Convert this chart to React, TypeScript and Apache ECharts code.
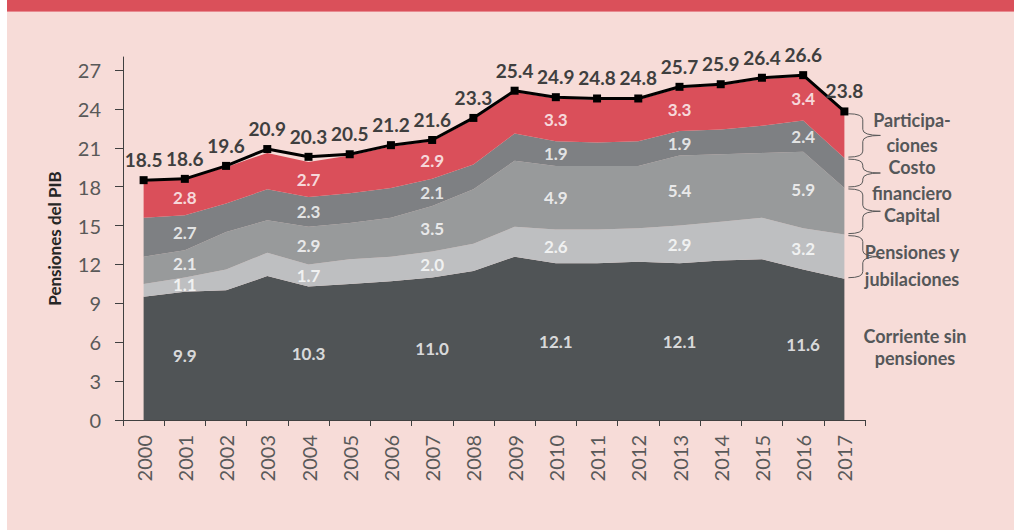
import React, { useEffect, useRef } from "react";
import * as echarts from "echarts";

const years = ["2000", "2001", "2002", "2003", "2004", "2005", "2006", "2007", "2008", "2009", "2010", "2011", "2012", "2013", "2014", "2015", "2016", "2017"];
const corriente = [9.5, 9.9, 10.0, 11.1, 10.3, 10.5, 10.7, 11.0, 11.5, 12.6, 12.1, 12.1, 12.2, 12.1, 12.3, 12.4, 11.6, 10.9];
const pensiones = [1.0, 1.1, 1.6, 1.8, 1.7, 1.9, 1.9, 2.0, 2.1, 2.3, 2.6, 2.6, 2.6, 2.9, 3.0, 3.2, 3.2, 3.4];
const capital = [2.1, 2.1, 2.9, 2.5, 2.9, 2.8, 3.0, 3.5, 4.2, 5.1, 4.9, 4.9, 4.8, 5.4, 5.2, 5.0, 5.9, 3.6];
const costo = [3.0, 2.7, 2.2, 2.4, 2.3, 2.3, 2.3, 2.1, 1.9, 2.1, 1.9, 1.8, 1.9, 1.9, 1.9, 2.1, 2.4, 2.3];
const participaciones = [2.8, 2.8, 2.8, 2.8, 2.7, 2.9, 3.2, 2.9, 3.5, 3.2, 3.3, 3.3, 3.2, 3.3, 3.4, 3.6, 3.4, 3.5];
const total = [18.5, 18.6, 19.6, 20.9, 20.3, 20.5, 21.2, 21.6, 23.3, 25.4, 24.9, 24.8, 24.8, 25.7, 25.9, 26.4, 26.6, 23.8];
const labelIdx = [1, 4, 7, 10, 13, 16];
const yTicks = [0, 3, 6, 9, 12, 15, 18, 21, 24, 27];

const layers = [
  { name: "Corriente sin pensiones", data: corriente, color: "#505456" },
  { name: "Pensiones y jubilaciones", data: pensiones, color: "#BEBFC1" },
  { name: "Capital", data: capital, color: "#989A9B" },
  { name: "Costo financiero", data: costo, color: "#7E8083" },
  { name: "Participaciones", data: participaciones, color: "#DA4F5A" },
];

let braceRegistered = false;
function registerBrace() {
  if (braceRegistered) return;
  braceRegistered = true;
  const Brace = (echarts.graphic as any).extendShape({
    shape: { x: 0, y1: 0, y2: 0, w: 30 },
    buildPath(ctx: any, s: any) {
      const xs = s.x + s.w * 0.45;
      const ym = (s.y1 + s.y2) / 2;
      const r = Math.min(6, (s.y2 - s.y1) / 4);
      ctx.moveTo(s.x, s.y1);
      ctx.quadraticCurveTo(xs, s.y1, xs, s.y1 + r);
      ctx.lineTo(xs, ym - r);
      ctx.quadraticCurveTo(xs, ym, s.x + s.w, ym);
      ctx.moveTo(s.x + s.w, ym);
      ctx.quadraticCurveTo(xs, ym, xs, ym + r);
      ctx.lineTo(xs, s.y2 - r);
      ctx.quadraticCurveTo(xs, s.y2, s.x, s.y2);
    },
  });
  echarts.graphic.registerShape("brace", Brace);
}

export default function App() {
  const ref = useRef<HTMLDivElement>(null);
  useEffect(() => {
    if (!ref.current) return;
    registerBrace();
    const chart = echarts.init(ref.current, null, { renderer: "svg" });
    const font = "Lato, 'Open Sans', sans-serif";

    const labelData: any[] = [];
    layers.forEach((layer, k) => {
      labelIdx.forEach((i) => {
        let base = 0;
        for (let j = 0; j < k; j++) base += layers[j].data[i];
        labelData.push({ value: [i, base + layer.data[i] / 2], label: { formatter: layer.data[i].toFixed(1) } });
      });
    });

    const series: any[] = layers.map((layer) => ({
      name: layer.name,
      type: "line",
      stack: "gasto",
      data: layer.data,
      showSymbol: false,
      symbol: "none",
      lineStyle: { width: 0 },
      areaStyle: { color: layer.color, opacity: 1 },
      itemStyle: { color: layer.color },
      z: 2,
    }));
    series.push({
      name: "labels",
      type: "scatter",
      data: labelData,
      symbolSize: 0,
      label: { show: true, position: "inside", color: "#ffffff", fontFamily: font, fontWeight: "bold", fontSize: 17, lineHeight: 15 },
      z: 4,
    });
    series.push({
      name: "Total",
      type: "line",
      data: total,
      symbol: "rect",
      symbolSize: 8,
      lineStyle: { color: "#000000", width: 3 },
      itemStyle: { color: "#000000" },
      label: {
        show: true,
        position: "top",
        distance: 7,
        formatter: (p: any) => Number(p.value).toFixed(1),
        color: "#3F3F3F",
        fontFamily: font,
        fontWeight: "bold",
        fontSize: 19,
      },
      z: 5,
    });

    chart.setOption({
      animation: false,
      grid: { left: 123, right: 152, top: 57, bottom: 110 },
      xAxis: {
        type: "category",
        data: years,
        boundaryGap: true,
        axisLine: { lineStyle: { color: "#404040", width: 1 } },
        axisTick: { show: true, length: 6, lineStyle: { color: "#404040" } },
        axisLabel: { rotate: 90, margin: 15, color: "#595959", fontFamily: font, fontSize: 20, interval: 0 },
      },
      yAxis: {
        type: "value",
        min: 0,
        max: 28,
        interval: 1,
        name: "Pensiones del PIB",
        nameLocation: "middle",
        nameGap: 60,
        nameTextStyle: { color: "#262626", fontFamily: font, fontWeight: "bold", fontSize: 17 },
        axisLine: { show: true, lineStyle: { color: "#404040", width: 1 } },
        axisTick: { show: true, length: 8, customValues: yTicks, lineStyle: { color: "#404040" } },
        axisLabel: { customValues: yTicks, margin: 22, color: "#595959", fontFamily: font, fontSize: 20 },
        splitLine: { show: false },
      },
      series,
    });

    const last = years.length - 1;
    const graphics: any[] = [];
    let base = 0;
    const xEnd = (chart.convertToPixel({ xAxisIndex: 0, yAxisIndex: 0 } as any, [last, 0]) as number[])[0];
    layers.forEach((layer, k) => {
      const lo = base;
      const hi = base + layer.data[last];
      base = hi;
      if (k === 0) return;
      const yLo = (chart.convertToPixel({ xAxisIndex: 0, yAxisIndex: 0 } as any, [last, lo]) as number[])[1];
      const yHi = (chart.convertToPixel({ xAxisIndex: 0, yAxisIndex: 0 } as any, [last, hi]) as number[])[1];
      graphics.push({
        type: "brace",
        shape: { x: xEnd + 4, y1: yHi + 1, y2: yLo - 1, w: 32 },
        style: { stroke: "#595959", lineWidth: 1, fill: null },
        silent: true,
      });
    });
    const sideText = [
      { lines: ["Participa-", "ciones"], y: 120, gap: 25 },
      { lines: ["Costo", "financiero"], y: 167, gap: 26 },
      { lines: ["Capital"], y: 215, gap: 0 },
      { lines: ["Pensiones y", "jubilaciones"], y: 252, gap: 27 },
      { lines: ["Corriente sin", "pensiones"], y: 336, gap: 22 },
    ];
    sideText.forEach((t, k) => {
      t.lines.forEach((ln, j) => {
        graphics.push({
          type: "text",
          x: k === 4 ? 915 : 912,
          y: t.y + j * t.gap,
          style: {
            text: ln,
            fill: "#555759",
            font: `bold 18px ${font}`,
            align: "center",
            verticalAlign: "middle",
          },
          silent: true,
        });
      });
    });
    chart.setOption({ graphic: graphics });

    return () => chart.dispose();
  }, []);

  return (
    <div style={{ position: "fixed", left: 0, top: 0, width: 1017, height: 530, background: "#ffffff", overflow: "hidden" }}>
      <div style={{ position: "absolute", left: 7, top: 0, width: 1007, height: 530, background: "#F7DCD8" }} />
      <div style={{ position: "absolute", left: 7, top: 0, width: 1007, height: 11, background: "#DA505A", borderBottom: "1px solid #E88A90" }} />
      <div ref={ref} style={{ position: "absolute", left: 0, top: 0, width: 1017, height: 530 }} />
    </div>
  );
}
